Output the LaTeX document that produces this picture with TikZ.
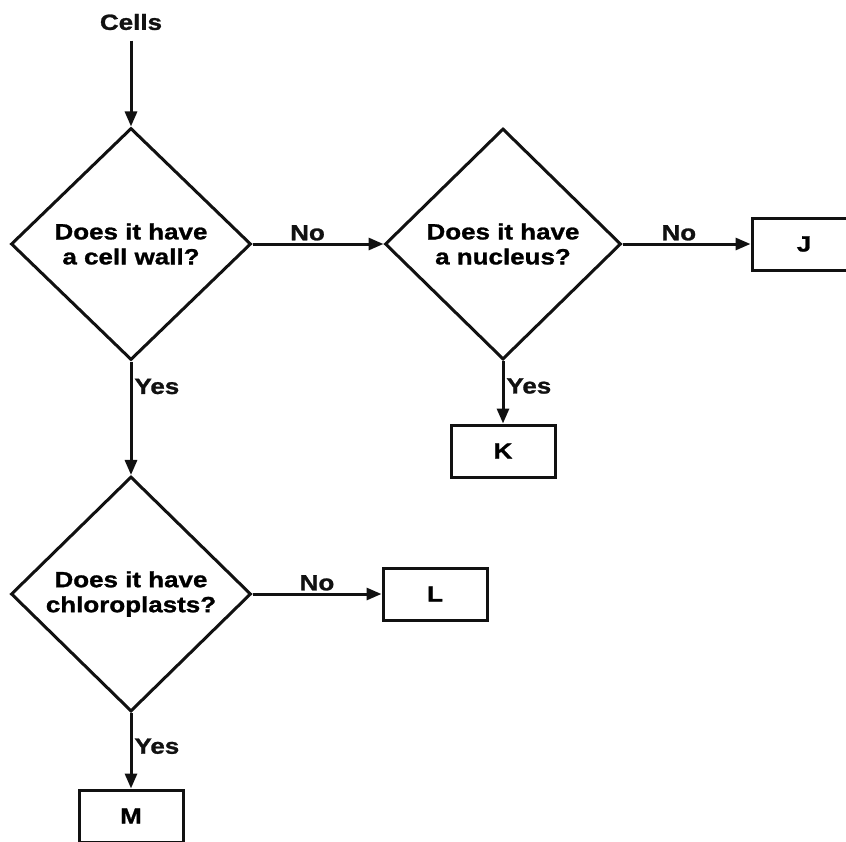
\documentclass[tikz,border=0pt]{standalone}
\usepackage{fontspec}
\usepackage{xcolor}
\usetikzlibrary{shapes.geometric,arrows.meta}
\setmainfont{Liberation Sans}[FakeStretch=1.18,FakeBold=1.2]
\definecolor{inkline}{HTML}{111111}
\newcommand{\flowfont}{\fontsize{22}{25}\selectfont\bfseries}

\begin{document}
\begin{tikzpicture}[x=1pt,y=-1pt,line width=3pt,
  query/.style={diamond,draw=inkline,inner sep=0pt,align=center,font=\flowfont,
    minimum width=240pt,minimum height=232pt},
  leaf/.style={rectangle,draw=inkline,inner sep=0pt,font=\flowfont,
    minimum width=104pt,minimum height=52pt},
  flow/.style={draw=inkline,-{Triangle[length=15pt,width=12pt]}},
  tag/.style={font=\flowfont,inner sep=2pt,text=inkline}]
\useasboundingbox (0,0) rectangle (846,841);
\node[tag] (cells) at (131,22){Cells};
\node[query] (wall) at (131,244){Does it have\\a cell wall?};
\node[query,minimum width=236pt,minimum height=231pt] (nucleus) at (503,244){Does it have\\a nucleus?};
\node[query,minimum height=235pt] (chloro) at (131,594){Does it have\\chloroplasts?};
\node[leaf] (J) at (804,244){J};
\node[leaf] (K) at (503,451){K};
\node[leaf] (L) at (435,594){L};
\node[leaf] (M) at (131,816){M};
\draw[flow,shorten <=7pt] (cells) -- (wall);
\draw[flow] (wall) -- node[tag,above,pos=.42]{No} (nucleus);
\draw[flow] (nucleus) -- node[tag,above,pos=.44]{No} (J);
\draw[flow] (nucleus) -- node[tag,right,pos=.4]{Yes} (K);
\draw[flow] (wall) -- node[tag,right,pos=.22]{Yes} (chloro);
\draw[flow] (chloro) -- node[tag,above,pos=.5]{No} (L);
\draw[flow] (chloro) -- node[tag,right,pos=.44]{Yes} (M);
\end{tikzpicture}
\end{document}
